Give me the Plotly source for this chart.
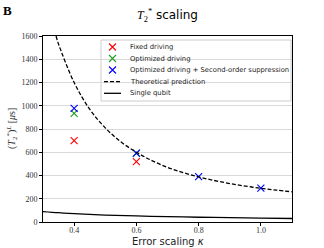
import plotly.graph_objects as go

# Data
kappa_fixed = [0.4, 0.6]
t2_fixed = [700, 520]
kappa_opt = [0.4, 0.6]
t2_opt = [935, 590]
kappa_opt2 = [0.4, 0.6, 0.8, 1.0]
t2_opt2 = [978, 592, 390, 292]

kappa_theory = [0.342, 0.35, 0.4, 0.45, 0.5, 0.55, 0.6, 0.65, 0.7, 0.75, 0.8, 0.85, 0.9, 0.95, 1.0, 1.05, 1.1]
t2_theory = [1600, 1530, 1200, 970, 810, 690, 600, 528, 470, 425, 388, 357, 331, 309, 290, 274, 260]

kappa_single = [0.3, 0.35, 0.4, 0.5, 0.6, 0.7, 0.8, 0.9, 1.0, 1.1]
t2_single = [90, 80, 72, 60, 52, 46, 41, 37, 33, 30]

y_ticks = [0, 200, 400, 600, 800, 1000, 1200, 1400, 1600]
x_ticks = [0.4, 0.6, 0.8, 1.0]

series_names = ["Fixed driving", "Optimized driving",
                "Optimized driving + Second-order suppression",
                "Theoretical prediction", "Single qubit"]
colors = ["#ff0000", "#1ca01c", "#0000ff", "black", "black"]

serif = "Liberation Serif"
sans = "DejaVu Sans"

W, H = 324, 248
L, R, T, B = 43, 292, 36, 222


def px(x):
    return (x - L) / (R - L)


def py(y):
    return (B - y) / (B - T)


fig = go.Figure()
xs = [kappa_fixed, kappa_opt, kappa_opt2]
ys = [t2_fixed, t2_opt, t2_opt2]
for i in range(3):
    fig.add_trace(go.Scatter(x=xs[i], y=ys[i], mode="markers", name=series_names[i],
                             showlegend=False,
                             marker=dict(symbol="x-thin", size=7,
                                         line=dict(color=colors[i], width=1.1))))
fig.add_trace(go.Scatter(x=kappa_theory, y=t2_theory, mode="lines", name=series_names[3],
                         showlegend=False,
                         line=dict(color="black", width=1.3, dash="4px,2px", shape="spline")))
fig.add_trace(go.Scatter(x=kappa_single, y=t2_single, mode="lines", name=series_names[4],
                         showlegend=False,
                         line=dict(color="black", width=1.3, shape="spline")))

# Legend (drawn manually to match the compact matplotlib legend)
row_y = [47, 58.5, 70, 81.7, 93.3]
key_x0, key_x1, key_xm, text_x = 104, 121, 112.5, 127.5
shapes = [dict(type="rect", xref="paper", yref="paper", layer="between",
               x0=px(101), x1=px(291), y0=py(101), y1=py(40),
               line=dict(color="#cccccc", width=1), fillcolor="rgba(255,255,255,0.85)")]
annotations = []
for i, name in enumerate(series_names):
    yy = py(row_y[i])
    if i < 3:
        fig.add_trace(go.Scatter(x=[px(key_xm)], y=[yy], xaxis="x2", yaxis="y2",
                                 mode="markers", showlegend=False, hoverinfo="skip",
                                 marker=dict(symbol="x-thin", size=7,
                                             line=dict(color=colors[i], width=1.1))))
    else:
        fig.add_trace(go.Scatter(x=[px(key_x0), px(key_x1)], y=[yy, yy], xaxis="x2", yaxis="y2",
                                 mode="lines", showlegend=False, hoverinfo="skip",
                                 line=dict(color="black", width=1.3,
                                           dash="4px,2px" if i == 3 else "solid")))
    annotations.append(dict(text=name, x=px(text_x), y=yy, xref="paper", yref="paper",
                            xanchor="left", yanchor="middle", showarrow=False,
                            font=dict(family=sans, size=6.8, color="#222222")))

annotations.append(dict(text="<b>B</b>", x=px(1), y=py(1), xref="paper", yref="paper",
                        xanchor="left", yanchor="top", showarrow=False,
                        font=dict(family=serif, size=13, color="black")))
annotations.append(dict(text="(<i>T</i><sub>2</sub><sup>*</sup>)<sup><i>L</i></sup> [<i>μ</i>s]",
                        x=px(12), y=py(129), xref="paper", yref="paper",
                        xanchor="center", yanchor="middle", showarrow=False, textangle=-90,
                        font=dict(family=serif, size=10, color="#333333")))
annotations.append(dict(text="Error scaling <i>κ</i>", x=px(167.5), y=py(241.5),
                        xref="paper", yref="paper", xanchor="center", yanchor="middle",
                        showarrow=False, font=dict(family=sans, size=10, color="#222222")))
annotations.append(dict(text="<span style=\"font-family:Liberation Serif\"><i>T</i><sub>2</sub><sup>*</sup></span> scaling",
                        x=px(167.5), y=py(15), xref="paper", yref="paper",
                        xanchor="center", yanchor="middle", showarrow=False,
                        font=dict(family=sans, size=12, color="black")))

fig.update_layout(
    width=W, height=H,
    margin=dict(l=L, r=W - R, t=T, b=H - B, autoexpand=False),
    plot_bgcolor="white", paper_bgcolor="white",
    showlegend=False,
    shapes=shapes, annotations=annotations,
    xaxis2=dict(overlaying="x", range=[0, 1], visible=False, fixedrange=True),
    yaxis2=dict(overlaying="y", range=[0, 1], visible=False, fixedrange=True),
    xaxis=dict(range=[0.3, 1.1], tickvals=x_ticks, ticktext=["0.4", "0.6", "0.8", "1.0"],
               showgrid=False, zeroline=False, showline=True, linecolor="black", linewidth=1,
               mirror=True, ticks="outside", ticklen=3, tickcolor="black",
               ticklabelstandoff=-3,
               tickfont=dict(family=serif, size=8, color="#333333")),
    yaxis=dict(range=[0, 1600], tickvals=y_ticks,
               showgrid=True, gridcolor="#d9d9d9", gridwidth=1, zeroline=False,
               showline=True, linecolor="black", linewidth=1, mirror=True,
               ticks="outside", ticklen=3, tickcolor="black",
               tickfont=dict(family=serif, size=8, color="#333333")),
)

fig.write_html("out.html", config={"displayModeBar": False},
               post_script="document.body.style.margin='0px';")
